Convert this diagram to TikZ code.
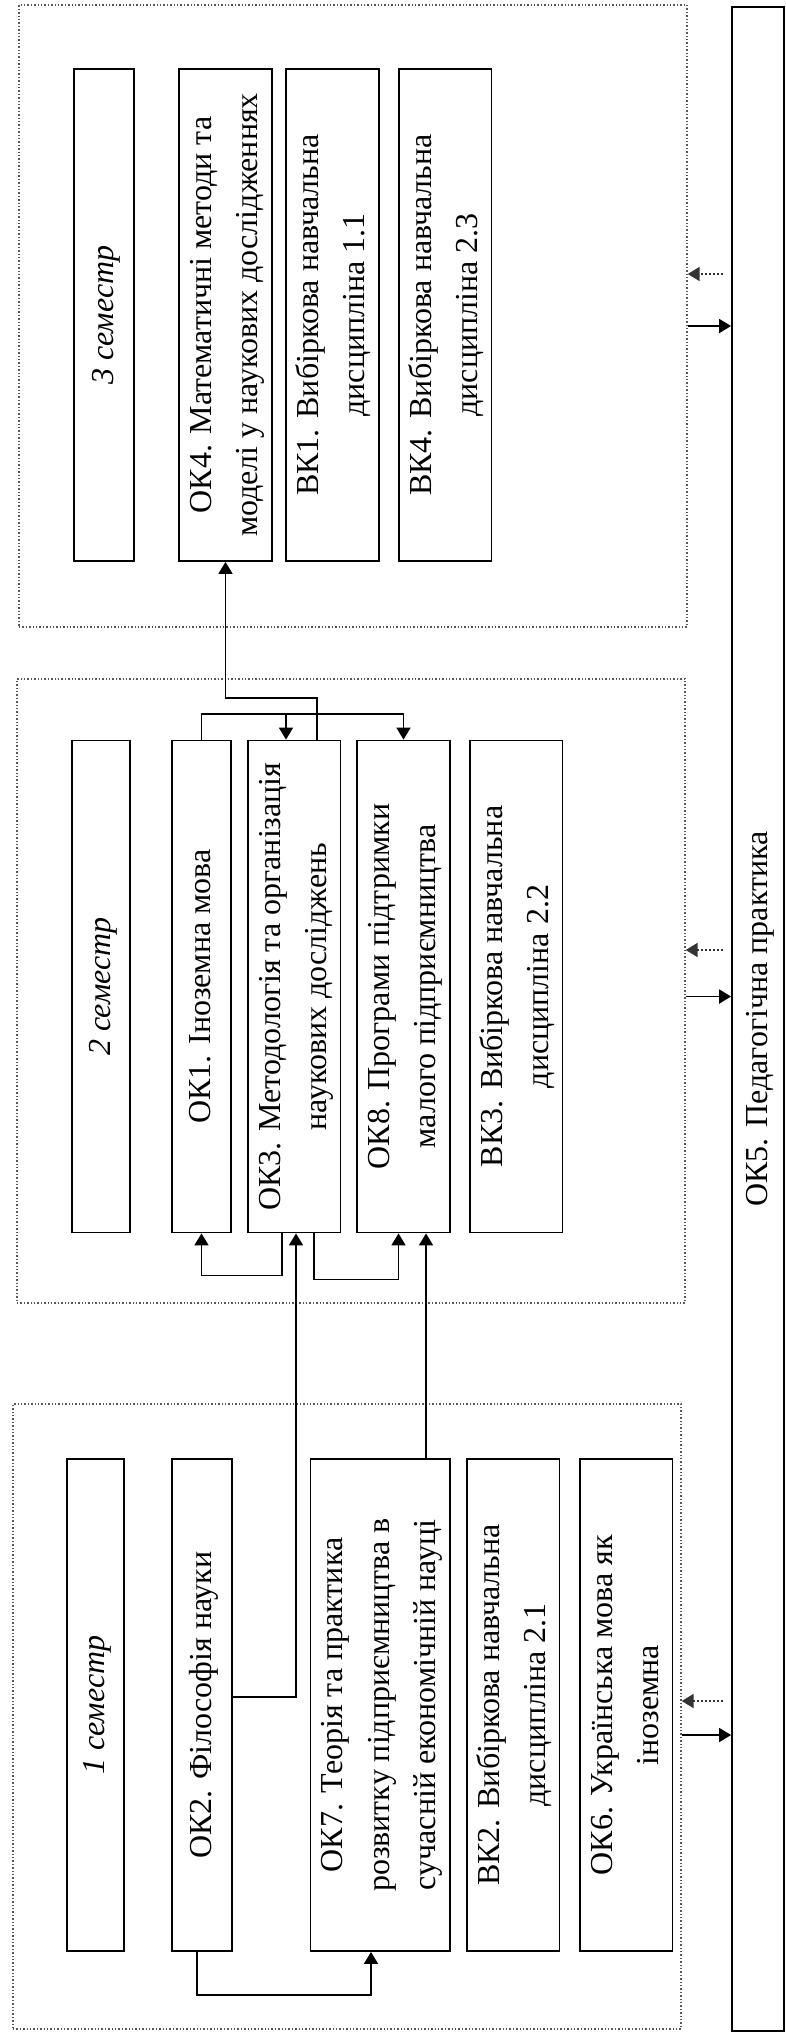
\documentclass[tikz,border=0pt]{standalone}
\usepackage{fontspec}
\setmainfont{Liberation Serif}
\usepackage{graphicx}
\usetikzlibrary{arrows.meta}
\newcommand{\vtext}[1]{\rotatebox{90}{\begin{tabular}{@{}c@{}}#1\end{tabular}}}

\begin{document}
\begin{tikzpicture}[x=0.5pt, y=-0.5pt,
	every node/.style={font=\fontsize{16}{23.2}\selectfont, inner sep=0pt},
	>={Triangle[length=6pt, width=7pt]},
	frame/.style={draw=black!65, densely dotted, line width=0.7pt, minimum width=334pt},
	course/.style={draw, line width=0.9pt, minimum height=246pt},
	link/.style={line width=0.9pt},
	back/.style={->, black!80, densely dotted, line width=1pt}]
	\useasboundingbox (0,0) rectangle (786,2034);
	% semester frames and practice
	\node[frame, minimum height=311pt] (f3) at (353,316) {};
	\node[frame, minimum height=312pt] (f2) at (351,991) {};
	\node[frame, minimum height=312.5pt] (f1) at (347,1716.5) {};
	\node[course, minimum width=26pt, minimum height=1012pt] (ok5) at (758,1019) {\vtext{ОК5. Педагогічна практика}};
	% 3 semester
	\node[course, minimum width=30pt] (s3) at (104,315) {\vtext{\itshape 3 семестр}};
	\node[course, minimum width=46.5pt] (ok4) at (225.5,315) {\vtext{ОК4. Математичні методи та\\моделі у наукових дослідженнях}};
	\node[course, minimum width=45.5pt] (vk1) at (332.5,315) {\vtext{ВК1. Вибіркова навчальна\\дисципліна 1.1}};
	\node[course, minimum width=45.75pt] (vk4) at (445,315) {\vtext{ВК4. Вибіркова навчальна\\дисципліна 2.3}};
	% 2 semester
	\node[course, minimum width=29pt] (s2) at (101,986.5) {\vtext{\itshape 2 семестр}};
	\node[course, minimum width=29.5pt] (ok1) at (201.5,986.5) {\vtext{ОК1. Іноземна мова}};
	\node[course, minimum width=46pt] (ok3) at (294,986.5) {\vtext{ОК3. Методологія та організація\\наукових досліджень}};
	\node[course, minimum width=46.5pt] (ok8) at (403.5,986.5) {\vtext{ОК8. Програми підтримки\\малого підприємництва}};
	\node[course, minimum width=46pt] (vk3) at (516,986.5) {\vtext{ВК3. Вибіркова навчальна\\дисципліна 2.2}};
	% 1 semester
	\node[course, minimum width=28.5pt] (s1) at (95.5,1705) {\vtext{\itshape 1 семестр}};
	\node[course, minimum width=30pt] (ok2) at (202,1705) {\vtext{ОК2. Філософія науки}};
	\node[course, minimum width=68pt] (ok7) at (380,1705) {\vtext{ОК7. Теорія та практика\\розвитку підприємництва в\\сучасній економічній науці}};
	\node[course, minimum width=46pt] (vk2) at (513,1705) {\vtext{ВК2. Вибіркова навчальна\\дисципліна 2.1}};
	\node[course, minimum width=44pt] (ok6) at (626,1705) {\vtext{ОК6. Українська мова як\\іноземна}};
	% links between courses
	\draw[link, ->] ([xshift=11.5pt]ok3.north) -- ++(0,-42) -| (ok4.south);
	\draw[link, ->] (ok1.north) -- ++(0,-26) coordinate (t1) -| (ok8.north);
	\draw[link, ->] ([xshift=-4pt]ok3.north |- t1) -- ([xshift=-4pt]ok3.north);
	\draw[link, ->] ([xshift=-6pt]ok3.south) -- ++(0,42) -| (ok1.south);
	\draw[link, ->] ([xshift=10pt]ok3.south) -- ++(0,46) -| ([xshift=-2.5pt]ok8.south);
	\draw[link, ->] ([yshift=4pt]ok2.east) -| ([xshift=1pt]ok3.south);
	\draw[link, ->] ([xshift=23pt]ok7.north) -- ([xshift=23pt]ok7.north |- ok8.south);
	\draw[link, ->] ([xshift=-2.5pt]ok2.south) -- ++(0,43) -| ([xshift=-4.5pt]ok7.south);
	% links with practice
	\draw[back] ([yshift=21pt, xshift=-4pt]f3.east -| ok5.west) -- ([yshift=21pt]f3.east);
	\draw[link, ->] ([yshift=-5pt]f3.east) -- ([yshift=-5pt]f3.east -| ok5.west);
	\draw[back] ([yshift=20.5pt, xshift=-4pt]f2.east -| ok5.west) -- ([yshift=20.5pt]f2.east);
	\draw[link, ->] ([yshift=-2.75pt]f2.east) -- ([yshift=-2.75pt]f2.east -| ok5.west);
	\draw[back] ([yshift=7.75pt, xshift=-4pt]f1.east -| ok5.west) -- ([yshift=7.75pt]f1.east);
	\draw[link, ->] ([yshift=-9.25pt]f1.east) -- ([yshift=-9.25pt]f1.east -| ok5.west);
\end{tikzpicture}
\end{document}
